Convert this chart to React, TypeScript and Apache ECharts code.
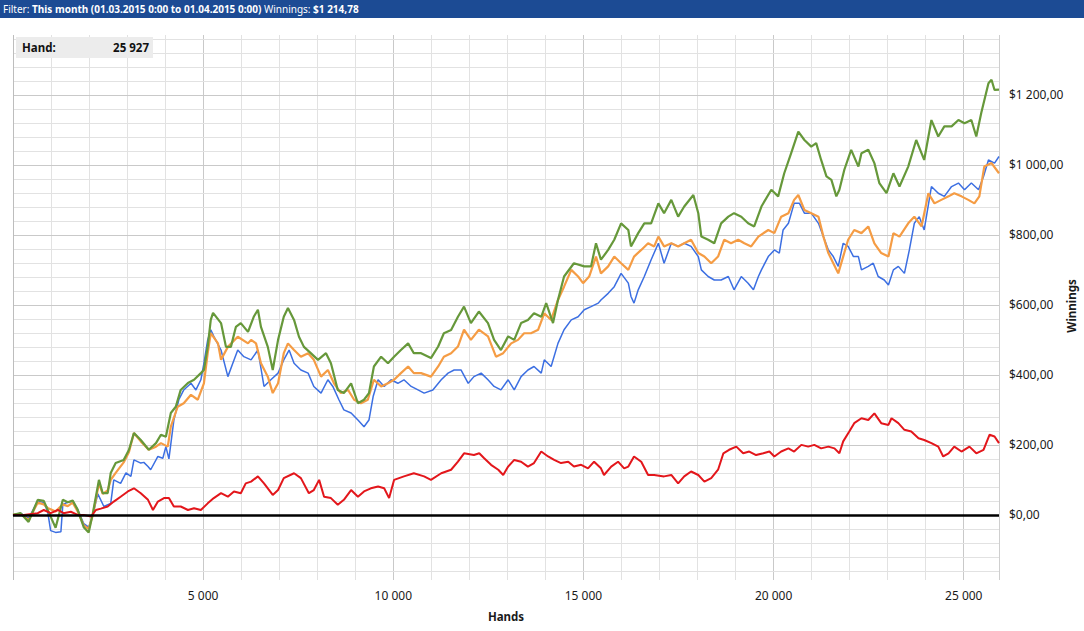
import React, { useEffect, useRef } from "react";
import * as echarts from "echarts";

const FONT = '"Noto Sans", "Open Sans", sans-serif';

const xLabelTicks = [5000, 10000, 15000, 20000, 25000];
const yLabelTicks = [0, 200, 400, 600, 800, 1000, 1200];
const handsMax = 25927;
const winMin = -186;
const winMax = 1371;

const headerFilter = "This month (01.03.2015 0:00 to 01.04.2015 0:00)";
const headerWinnings = "$1 214,78";
const handLabel = "Hand:";
const handValue = "25 927";
const xAxisTitle = "Hands";
const yAxisTitle = "Winnings";

const greenSeries: [number, number][] = [
  [0, 0], [200, 5], [410, -20], [650, 43], [810, 40], [910, 15], [1120, -37], [1310, 43], [1440, 36], [1570, 41],
  [1700, 15], [1860, -35], [1990, -50], [2100, 5], [2260, 100], [2360, 62], [2490, 62], [2570, 120], [2700, 148],
  [2910, 157], [3050, 186], [3180, 234], [3360, 214], [3570, 186], [3760, 205], [3890, 229], [4020, 223], [4150, 291],
  [4280, 309], [4410, 357], [4600, 377], [4760, 386], [4940, 405], [5020, 414], [5120, 480], [5200, 557], [5260, 577],
  [5470, 548], [5600, 480], [5730, 480], [5860, 537], [5990, 548], [6180, 523], [6330, 566], [6440, 586], [6520, 537],
  [6700, 480], [6830, 414], [6970, 500], [7120, 566], [7230, 591], [7390, 557], [7520, 509], [7650, 480], [7830, 462],
  [8020, 443], [8230, 462], [8360, 433], [8540, 357], [8700, 348], [8890, 376], [9070, 319], [9230, 329], [9360, 348],
  [9490, 424], [9680, 452], [9860, 433], [10020, 452], [10200, 471], [10390, 490], [10540, 462], [10730, 462],
  [10990, 448], [11180, 481], [11330, 519], [11520, 528], [11700, 566], [11860, 595], [12040, 548], [12250, 581],
  [12490, 548], [12650, 500], [12830, 471], [13020, 510], [13180, 500], [13360, 548], [13540, 557], [13700, 576],
  [13890, 566], [14020, 605], [14200, 548], [14330, 614], [14490, 681], [14750, 719], [15020, 710], [15200, 710],
  [15330, 776], [15460, 729], [15650, 757], [15810, 786], [15990, 833], [16180, 814], [16250, 767], [16440, 805],
  [16600, 833], [16780, 833], [16970, 890], [17120, 862], [17310, 900], [17490, 852], [17650, 881], [17890, 914],
  [18020, 862], [18100, 795], [18280, 786], [18440, 776], [18620, 833], [18810, 852], [18960, 862], [19150, 852],
  [19330, 833], [19490, 824], [19680, 881], [19940, 929], [20120, 910], [20280, 976], [20460, 1033], [20650, 1095],
  [20810, 1071], [20990, 1052], [21120, 1062], [21250, 1014], [21390, 967], [21520, 957], [21650, 910], [21730, 929],
  [21860, 986], [22040, 1043], [22230, 995], [22310, 1033], [22490, 1043], [22650, 1005], [22780, 948], [22970, 919],
  [23150, 976], [23310, 938], [23540, 995], [23750, 1071], [23960, 1014], [24150, 1128], [24330, 1081], [24490, 1110],
  [24680, 1110], [24860, 1128], [25020, 1119], [25200, 1128], [25330, 1081], [25460, 1148], [25650, 1233],
  [25730, 1243], [25810, 1214], [25927, 1214.78],
];

const blueSeries: [number, number][] = [
  [0, 0], [200, 5], [410, -10], [650, 40], [810, 35], [910, 10], [990, -45], [1120, -50], [1260, -48], [1310, 30],
  [1440, 36], [1570, 38], [1700, 15], [1860, -25], [1990, -35], [2100, 0], [2230, 60], [2390, 24], [2570, 33],
  [2650, 100], [2830, 90], [2970, 120], [3100, 110], [3180, 157], [3360, 148], [3440, 150], [3550, 138], [3620, 129],
  [3810, 167], [3940, 162], [4020, 195], [4100, 160], [4230, 271], [4360, 329], [4490, 357], [4680, 376], [4810, 357],
  [4940, 386], [5020, 433], [5120, 500], [5200, 529], [5280, 510], [5470, 471], [5650, 395], [5780, 433], [5910, 471],
  [6070, 452], [6260, 443], [6440, 471], [6600, 367], [6780, 386], [6970, 405], [7120, 443], [7260, 471], [7390, 433],
  [7570, 414], [7760, 405], [7910, 367], [8100, 348], [8280, 386], [8410, 367], [8570, 329], [8700, 300], [8890, 291],
  [9070, 271], [9230, 252], [9360, 271], [9470, 338], [9600, 386], [9760, 367], [9940, 386], [10120, 376],
  [10280, 386], [10470, 367], [10650, 357], [10810, 348], [11040, 357], [11260, 386], [11440, 405], [11600, 414],
  [11780, 414], [11970, 376], [12120, 395], [12310, 405], [12490, 386], [12650, 367], [12830, 357], [13020, 386],
  [13180, 357], [13360, 395], [13540, 414], [13700, 424], [13890, 405], [13970, 443], [14150, 424], [14330, 490],
  [14490, 529], [14680, 557], [14860, 566], [15020, 586], [15200, 595], [15390, 605], [15460, 614], [15650, 633],
  [15810, 652], [15990, 690], [16180, 662], [16250, 624], [16330, 605], [16440, 643], [16600, 681], [16780, 729],
  [16970, 776], [17120, 719], [17310, 776], [17490, 767], [17650, 776], [17830, 767], [18020, 738], [18100, 700],
  [18280, 681], [18440, 671], [18620, 671], [18810, 681], [18960, 643], [19150, 681], [19330, 662], [19470, 643],
  [19600, 681], [19680, 700], [19860, 738], [20020, 757], [20150, 748], [20250, 814], [20390, 833], [20540, 890],
  [20680, 890], [20810, 862], [20990, 862], [21180, 833], [21310, 795], [21440, 757], [21570, 738], [21700, 710],
  [21830, 776], [21960, 767], [22100, 738], [22230, 738], [22310, 700], [22490, 710], [22620, 719], [22750, 681],
  [22910, 671], [23020, 657], [23150, 700], [23280, 710], [23440, 690], [23570, 757], [23700, 833], [23830, 852],
  [23960, 814], [24150, 938], [24330, 919], [24490, 910], [24680, 938], [24860, 948], [25020, 929], [25200, 948],
  [25390, 929], [25520, 967], [25650, 1014], [25810, 1005], [25927, 1024],
];

const orangeSeries: [number, number][] = [
  [0, 0], [200, 3], [410, -15], [650, 35], [810, 30], [910, 20], [1120, 10], [1310, 30], [1440, 25], [1570, 35],
  [1700, 10], [1860, -30], [1990, -40], [2100, 0], [2260, 90], [2360, 60], [2490, 70], [2570, 100], [2700, 120],
  [2910, 150], [3050, 180], [3180, 234], [3360, 210], [3570, 186], [3760, 195], [3890, 205], [4070, 195], [4150, 252],
  [4330, 309], [4490, 319], [4680, 343], [4860, 329], [5020, 376], [5120, 462], [5200, 519], [5390, 490], [5470, 443],
  [5650, 480], [5910, 509], [6180, 490], [6260, 500], [6390, 490], [6520, 433], [6700, 395], [6830, 348], [6970, 376],
  [7120, 462], [7230, 490], [7390, 471], [7570, 452], [7760, 462], [7910, 443], [8100, 395], [8280, 414], [8440, 376],
  [8620, 348], [8810, 357], [8970, 329], [9150, 319], [9330, 329], [9490, 386], [9680, 367], [9860, 376], [10020, 386],
  [10200, 405], [10390, 424], [10540, 405], [10730, 405], [10990, 395], [11180, 424], [11330, 452], [11520, 462],
  [11700, 481], [11860, 529], [12040, 500], [12250, 529], [12490, 510], [12700, 452], [12890, 462], [13100, 490],
  [13280, 500], [13440, 519], [13620, 519], [13810, 529], [13970, 576], [14150, 557], [14330, 614], [14490, 652],
  [14680, 700], [14860, 681], [14990, 662], [15150, 681], [15330, 738], [15460, 690], [15650, 710], [15810, 738],
  [15990, 719], [16180, 700], [16330, 738], [16520, 757], [16700, 776], [16860, 767], [16970, 795], [17120, 767],
  [17310, 776], [17490, 767], [17650, 776], [17830, 786], [18020, 748], [18180, 738], [18360, 719], [18540, 738],
  [18700, 786], [18880, 776], [19070, 786], [19230, 776], [19410, 767], [19600, 795], [19860, 814], [20020, 805],
  [20200, 852], [20390, 862], [20540, 900], [20650, 914], [20810, 871], [20990, 862], [21180, 852], [21310, 795],
  [21440, 748], [21570, 719], [21700, 690], [21830, 738], [21960, 786], [22120, 814], [22310, 805], [22490, 824],
  [22650, 776], [22830, 748], [23020, 738], [23150, 805], [23310, 795], [23540, 833], [23700, 852], [23890, 824],
  [24070, 919], [24230, 890], [24410, 900], [24600, 910], [24750, 919], [24940, 910], [25120, 900], [25280, 890],
  [25410, 910], [25540, 995], [25730, 1005], [25927, 976],
];

const redSeries: [number, number][] = [
  [0, 0], [280, 0], [650, 5], [810, 14], [990, 5], [1180, 14], [1330, 5], [1520, 9], [1700, 0], [1860, 0], [2050, -5],
  [2180, 14], [2310, 18], [2490, 24], [2650, 38], [2830, 52], [3020, 67], [3180, 76], [3360, 62], [3550, 43],
  [3680, 14], [3810, 38], [3970, 48], [4100, 48], [4230, 24], [4410, 24], [4600, 14], [4760, 19], [4940, 14],
  [5120, 33], [5280, 48], [5470, 62], [5650, 52], [5810, 67], [5990, 62], [6120, 90], [6260, 95], [6440, 110],
  [6600, 90], [6830, 57], [6970, 71], [7120, 105], [7390, 119], [7570, 105], [7780, 62], [7910, 71], [8050, 100],
  [8180, 52], [8360, 48], [8540, 29], [8700, 43], [8890, 71], [9070, 52], [9230, 67], [9410, 76], [9600, 81],
  [9760, 76], [9890, 48], [10020, 100], [10280, 110], [10540, 119], [10810, 110], [10990, 100], [11260, 119],
  [11520, 129], [11700, 152], [11860, 176], [12120, 171], [12260, 176], [12390, 162], [12570, 143], [12760, 129],
  [12890, 114], [13020, 138], [13180, 157], [13360, 152], [13540, 138], [13700, 148], [13890, 181], [14070, 167],
  [14230, 157], [14410, 148], [14600, 152], [14750, 138], [14940, 143], [15120, 133], [15280, 152], [15460, 133],
  [15540, 114], [15730, 138], [15910, 152], [16070, 133], [16180, 138], [16330, 167], [16520, 152], [16700, 114],
  [16860, 114], [17120, 110], [17310, 114], [17490, 90], [17650, 110], [17830, 124], [18020, 114], [18180, 95],
  [18360, 105], [18540, 129], [18680, 176], [18830, 186], [19020, 195], [19200, 176], [19360, 181], [19540, 171],
  [19730, 176], [19890, 181], [20020, 167], [20200, 181], [20390, 190], [20540, 181], [20730, 200], [20910, 195],
  [21070, 200], [21250, 190], [21440, 195], [21600, 190], [21730, 176], [21830, 210], [21990, 238], [22120, 262],
  [22310, 276], [22490, 271], [22650, 290], [22830, 262], [23020, 257], [23100, 276], [23280, 262], [23440, 243],
  [23620, 238], [23810, 219], [23960, 214], [24150, 205], [24330, 195], [24460, 167], [24600, 176], [24750, 195],
  [24940, 181], [25150, 195], [25330, 176], [25520, 186], [25680, 229], [25810, 224], [25927, 205],
];

function fmtThousands(v: number): string {
  return String(Math.round(v)).replace(/\B(?=(\d{3})+(?!\d))/g, " ");
}
function fmtMoney(v: number): string {
  return "$" + fmtThousands(v) + ",00";
}

function buildOption() {
  const minorColor = "#e2e2e2";
  const majorColor = "#c9c9c9";
  const gridLines: any[] = [];
  for (let h = 1000; h < handsMax; h += 1000) {
    gridLines.push({ xAxis: h, lineStyle: { color: h % 5000 === 0 ? majorColor : minorColor, width: 1, type: "solid" } });
  }
  for (let v = -160; v <= 1360; v += 40) {
    if (v === 0) continue;
    gridLines.push({ yAxis: v, lineStyle: { color: v % 200 === 0 ? majorColor : minorColor, width: 1, type: "solid" } });
  }
  gridLines.push({ xAxis: 0, lineStyle: { color: "#bdbdbd", width: 1, type: "solid" } });
  gridLines.push({ xAxis: handsMax, lineStyle: { color: "#cfcfcf", width: 1, type: "solid" } });

  const lineBase = { type: "line", showSymbol: false, symbol: "none", silent: true, animation: false };

  return {
    animation: false,
    grid: { left: 13, right: 85, top: 35, bottom: 51, outerBoundsMode: "none", containLabel: false },
    xAxis: {
      type: "value",
      min: 0,
      max: handsMax,
      axisLine: { show: true, lineStyle: { color: "#c4c4c4", width: 1 } },
      axisTick: { show: false },
      splitLine: { show: false },
      axisLabel: {
        customValues: xLabelTicks,
        formatter: (v: number) => fmtThousands(v),
        color: "#1a1a1a",
        fontSize: 12,
        fontFamily: FONT,
        margin: 9,
      },
      name: xAxisTitle,
      nameLocation: "middle",
      nameGap: 30,
      nameTextStyle: { fontWeight: "bold", fontSize: 11.5, color: "#1a1a1a", fontFamily: FONT },
    },
    yAxis: {
      type: "value",
      position: "right",
      min: winMin,
      max: winMax,
      axisLine: { show: false },
      axisTick: { show: false },
      splitLine: { show: false },
      axisLabel: {
        customValues: yLabelTicks,
        formatter: (v: number) => fmtMoney(v),
        color: "#1a1a1a",
        fontSize: 12,
        fontFamily: FONT,
        margin: 10,
      },
    },
    series: [
      {
        ...lineBase,
        name: "grid",
        data: [[0, 0]],
        lineStyle: { opacity: 0 },
        z: 1,
        markLine: { silent: true, symbol: ["none", "none"], z: 1, label: { show: false }, animation: false, data: gridLines },
      },
      { ...lineBase, name: "blue", data: blueSeries, lineStyle: { color: "#3c6fe2", width: 1.5 }, itemStyle: { color: "#3c6fe2" }, z: 3 },
      { ...lineBase, name: "orange", data: orangeSeries, lineStyle: { color: "#f59c44", width: 2.2 }, itemStyle: { color: "#f59c44" }, z: 3 },
      { ...lineBase, name: "green", data: greenSeries, lineStyle: { color: "#66983a", width: 2.2 }, itemStyle: { color: "#66983a" }, z: 4 },
      {
        ...lineBase,
        name: "red",
        data: redSeries,
        lineStyle: { color: "#e3161b", width: 2 },
        itemStyle: { color: "#e3161b" },
        z: 5,
        markLine: {
          silent: true,
          symbol: ["none", "none"],
          z: 6,
          label: { show: false },
          animation: false,
          data: [{ yAxis: 0, lineStyle: { color: "#000", width: 2.5, type: "solid" } }],
        },
      },
    ],
    graphic: [
      { type: "rect", shape: { x: 0, y: 0, width: 1084, height: 18 }, style: { fill: "#1c4b94" }, z: 100 },
      {
        type: "text",
        x: 3,
        y: 9,
        z: 101,
        style: {
          text: "{n|Filter: }{b|" + headerFilter + "}{n| Winnings: }{b|" + headerWinnings + "}",
          verticalAlign: "middle",
          align: "left",
          rich: {
            n: { fill: "#ffffff", fontSize: 10, fontFamily: FONT },
            b: { fill: "#ffffff", fontSize: 10, fontFamily: FONT, fontWeight: "bold" },
          },
        },
      },
      { type: "rect", shape: { x: 16, y: 37, width: 137, height: 21 }, style: { fill: "#ececec" }, z: 100 },
      {
        type: "text",
        x: 22,
        y: 47.5,
        z: 101,
        style: { text: handLabel, fill: "#111", fontSize: 11.5, fontWeight: "bold", fontFamily: FONT, verticalAlign: "middle", align: "left" },
      },
      {
        type: "text",
        x: 149,
        y: 47.5,
        z: 101,
        style: { text: handValue, fill: "#111", fontSize: 11.5, fontWeight: "bold", fontFamily: FONT, verticalAlign: "middle", align: "right" },
      },
      {
        type: "text",
        x: 1071,
        y: 306,
        rotation: Math.PI / 2,
        z: 101,
        style: { text: yAxisTitle, fill: "#1a1a1a", fontSize: 11.5, fontWeight: "bold", fontFamily: FONT, verticalAlign: "middle", align: "center" },
      },
    ],
  };
}

export default function App() {
  const ref = useRef<HTMLDivElement>(null);
  useEffect(() => {
    if (!ref.current) return;
    const chart = echarts.init(ref.current, undefined, { renderer: "svg" });
    chart.setOption(buildOption() as any);
    return () => chart.dispose();
  }, []);
  return (
    <div
      ref={ref}
      style={{ position: "absolute", left: 0, top: 0, width: 1084, height: 631, background: "#ffffff" }}
    />
  );
}
